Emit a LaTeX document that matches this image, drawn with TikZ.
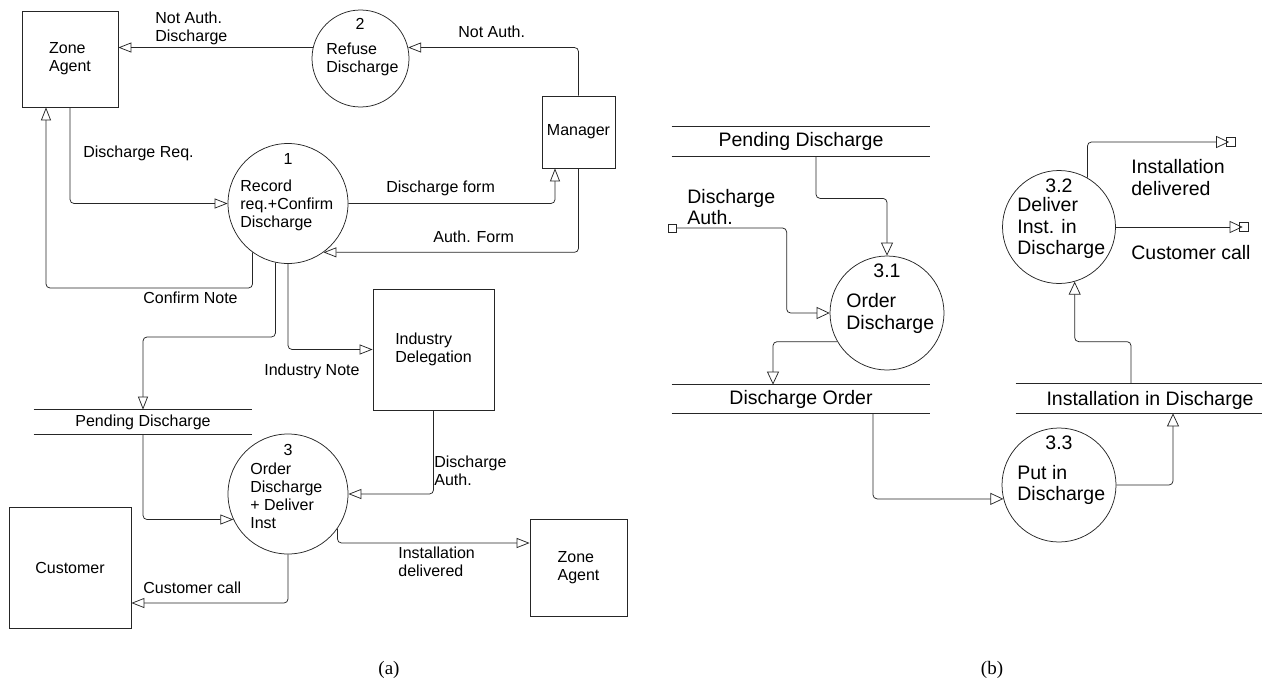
\documentclass[tikz,border=0pt]{standalone}
\usepackage{fontspec}
\setmainfont{Liberation Sans}
\newfontfamily\capfont{Liberation Serif}
\newcommand{\LtFont}{\fontsize{16}{18}\selectfont}
\newcommand{\RtFont}{\fontsize{19.5}{21.7}\selectfont}
\usetikzlibrary{arrows.meta,calc}
\begin{document}
\begin{tikzpicture}[x=1pt,y=-1pt,
  line width=0.75pt, draw=black!85,
  arr/.style={-{Triangle[open,length=13pt,width=10pt]}, rounded corners=4pt},
  arrb/.style={-{Triangle[open,length=13pt,width=12pt]}, rounded corners=4pt},
  ent/.style={draw, rectangle, inner sep=0pt, align=left, font=\LtFont},
  proc/.style={draw, circle, inner sep=0pt},
  lt/.style={inner sep=0pt, align=left, font=\LtFont},
  rt/.style={inner sep=0pt, align=left, font=\RtFont},
  store/.style={inner sep=0pt},
  sqr/.style={draw, rectangle, inner sep=0pt, minimum size=9pt, line width=0.6pt},
  captxt/.style={inner sep=0pt, font=\capfont\fontsize{19}{21}\selectfont},
]
\useasboundingbox (0,0) rectangle (1273,685);

% ---------- (a) ----------
\node[ent, minimum width=96pt, minimum height=96pt] (za1) at (70,59) {Zone\\Agent};
\node[ent, minimum width=73pt, minimum height=72pt] (mgr) at (578.5,132) {Manager};
\node[ent, minimum width=121pt, minimum height=121pt] (ind) at (433.5,349.5) {Industry\\Delegation};
\node[ent, minimum width=97pt, minimum height=97pt] (za2) at (578.5,567.5) {Zone\\Agent};
\node[ent, minimum width=122pt, minimum height=121pt] (cust) at (70,567.5) {Customer};

\node[proc, minimum size=97pt] (p2) at (360.5,58.5) {};
\node[proc, minimum size=120pt] (p1) at (288,203.5) {};
\node[proc, minimum size=120pt] (p3) at (288,494) {};

\node[lt] (t2n) at (360,24) {2};
\node[lt, anchor=west] (t2) at (326,59) {Refuse\\Discharge};
\node[lt] (t1n) at (288,159) {1};
\node[lt, anchor=west] (t1) at (240,205) {Record\\req.+Confirm\\Discharge};
\node[lt] (t3n) at (288,450) {3};
\node[lt, anchor=west] (t3) at (250,495.5) {Order\\Discharge\\+ Deliver\\Inst};

\node[store, font=\LtFont, minimum width=218pt, minimum height=24pt] (ps1) at (143,422) {Pending Discharge};
\draw (ps1.north west) -- (ps1.north east) (ps1.south west) -- (ps1.south east);

\draw[arr] (p2.167) -- (za1.east |- p2.167);
\draw[arr] (mgr.north) |- (p2.13);
\draw[arr] (p1.east) -| ($(mgr.south)+(-23.5,0)$);
\draw[arr] (mgr.south) |- (p1.-54);
\draw[arr] (za1.south) |- (p1.west);
\coordinate (cn) at (46,288);
\draw[arr] (p1.234) |- (cn) -- (cn |- za1.south);
\coordinate (cp) at (143,337);
\draw[arr] (p1.258) |- (cp) -- (ps1.north);
\draw[arr] (p1.south) |- (ind.west);
\draw[arr] (ps1.south) |- (p3.205);
\draw[arr] (ind.south) |- (p3.east);
\draw[arr] (p3.-35) |- ($(za2.west)+(0,-24.5)$);
\draw[arr] (p3.south) |- ($(cust.east)+(0,35.5)$);

\node[lt, anchor=west] (l1) at (155,28.5) {Not Auth.\\Discharge};
\node[lt, anchor=west] (l2) at (458,32) {Not Auth.};
\node[lt, anchor=west] (l3) at (386,188) {Discharge form};
\node[lt, anchor=west] (l4) at (433,237) {Auth. Form};
\node[lt, anchor=west] (l5) at (83,153) {Discharge Req.};
\node[lt, anchor=west] (l6) at (143,298) {Confirm Note};
\node[lt, anchor=west] (l7) at (264,371) {Industry Note};
\node[lt, anchor=west] (l8) at (434,471) {Discharge\\Auth.};
\node[lt, anchor=west] (l9) at (398,562) {Installation\\delivered};
\node[lt, anchor=west] (l10) at (143,588) {Customer call};

% ---------- (b) ----------
\node[proc, minimum size=114pt] (p31) at (887,313) {};
\node[proc, minimum size=113pt] (p32) at (1059,227) {};
\node[proc, minimum size=114pt] (p33) at (1059,485) {};

\node[rt] (t31n) at (887,271) {3.1};
\node[rt, anchor=west] (t31) at (846,313.5) {Order\\Discharge};
\node[rt] (t32n) at (1059,186) {3.2};
\node[rt, anchor=west] (t32) at (1017,228) {Deliver\\Inst. in\\Discharge};
\node[rt] (t33n) at (1059,443) {3.3};
\node[rt, anchor=west] (t33) at (1017,485) {Put in\\Discharge};

\node[store, font=\RtFont, minimum width=258pt, minimum height=29pt] (psr) at (801,141.5) {Pending Discharge};
\draw (psr.north west) -- (psr.north east) (psr.south west) -- (psr.south east);
\node[store, font=\RtFont, minimum width=258pt, minimum height=28pt] (dor) at (801,399) {Discharge Order};
\draw (dor.north west) -- (dor.north east) (dor.south west) -- (dor.south east);
\node[store, minimum width=246pt, minimum height=29pt] (iid) at (1139,398.5) {};
\draw (iid.north west) -- (iid.north east) (iid.south west) -- (iid.south east);
\node[rt] (iidt) at (1150,400) {Installation in Discharge};

\node[sqr, minimum size=8pt] (sq0) at (672,228) {};
\node[sqr] (sq1) at (1230.5,142) {};
\node[sqr] (sq2) at (1244,227) {};

\draw[arrb] ($(psr.south)+(15,0)$) -- ++(0,42) -| (p31.north);
\draw[arrb] (sq0.east) -| ($(p31.west)+(-43,0)$) -- (p31.west);
\draw[arrb] (p31.210) -| ($(dor.north)+(-28,0)$);
\draw[arrb] ($(dor.south)+(72,0)$) |- (p33.194);
\draw[arrb] (p33.east) -| ($(iid.south)+(34,0)$);
\draw[arrb] ($(iid.north)+(-8,0)$) -- ++(0,-42) -| (p32.-74);
\draw[arrb] (p32.60) |- ($(sq1.west)+(3.5,0)$);
\draw[arrb] (p32.east) -- ($(sq2.west)+(3.5,0)$);

\node[rt, anchor=west] (r1) at (687,207) {Discharge\\Auth.};
\node[rt, anchor=west] (r2) at (1131,177.5) {Installation\\delivered};
\node[rt, anchor=west] (r3) at (1131,253) {Customer call};

% captions
\node[captxt] (capa) at (389,670) {(a)};
\node[captxt] (capb) at (992,670) {(b)};
\end{tikzpicture}
\end{document}
